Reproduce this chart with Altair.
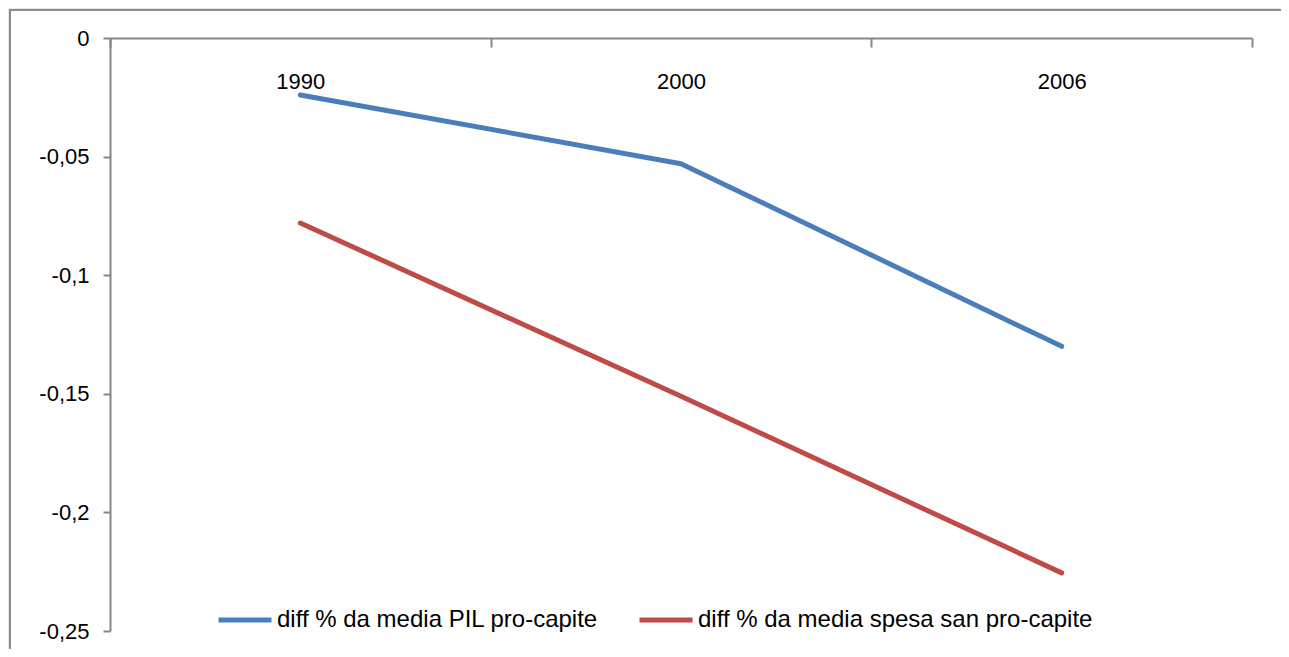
import altair as alt
import pandas as pd

years = ["1990", "2000", "2006"]
pil = [-0.024, -0.053, -0.130]
spesa = [-0.078, -0.151, -0.2255]
series_names = ["diff % da media PIL pro-capite", "diff % da media spesa san pro-capite"]
series_colors = ["#4a7ebb", "#be4b48"]
y_ticks = [0, -0.05, -0.1, -0.15, -0.2, -0.25]

rows = []
for i, y in enumerate(years):
    rows.append({"anno": y, "serie": series_names[0], "valore": pil[i]})
    rows.append({"anno": y, "serie": series_names[1], "valore": spesa[i]})
df = pd.DataFrame(rows)

W, H = 1142, 593

frame = alt.Chart(pd.DataFrame({"a": [0]})).mark_rect(
    fill="white", stroke="#8c8c8c", strokeWidth=2
).encode(
    x=alt.value(-100), x2=alt.value(1300), y=alt.value(-28), y2=alt.value(700)
)

lines = alt.Chart(df).mark_line(strokeWidth=5, strokeCap="round", strokeJoin="round").encode(
    x=alt.X("anno:N", sort=years, title=None,
            scale=alt.Scale(paddingInner=0, paddingOuter=0),
            axis=alt.Axis(orient="bottom", offset=-H, tickBand="extent", labelAngle=0,
                          labelPadding=24, tickSize=9, domainColor="#868686",
                          tickColor="#868686", tickWidth=2, domainWidth=2,
                          labelFont="Liberation Sans", labelFontSize=22,
                          labelColor="black", grid=False, zindex=1)),
    y=alt.Y("valore:Q", title=None,
            scale=alt.Scale(domain=[-0.25, 0], nice=False, zero=False),
            axis=alt.Axis(values=y_ticks, labelExpr="replace(toString(datum.value), '.', ',')",
                          tickSize=7, domainColor="#868686", tickColor="#868686",
                          tickWidth=2, domainWidth=2, labelPadding=14,
                          labelFont="Liberation Sans", labelFontSize=22,
                          labelColor="black", grid=False, zindex=1)),
    color=alt.Color("serie:N", sort=series_names,
                    scale=alt.Scale(domain=series_names, range=series_colors),
                    legend=alt.Legend(title=None, orient="none", direction="horizontal",
                                      legendX=106, legendY=553,
                                      symbolType="stroke", symbolSize=2809,
                                      symbolStrokeWidth=5, columnPadding=30,
                                      labelFont="Liberation Sans",
                                      labelFontSize=24, labelColor="black", labelLimit=0,
                                      labelOffset=3, symbolOffset=0, zindex=1)),
)

chart = alt.layer(frame, lines).properties(
    width=W, height=H,
    autosize=alt.AutoSizeParams(type="none"),
    padding={"left": 102, "top": 30, "right": 29, "bottom": 18},
    background="#e6e6e6",
).configure_view(stroke=None).configure_legend(symbolStrokeColor=None)

chart.save("out.html", embed_options={"renderer": "svg", "actions": False})
